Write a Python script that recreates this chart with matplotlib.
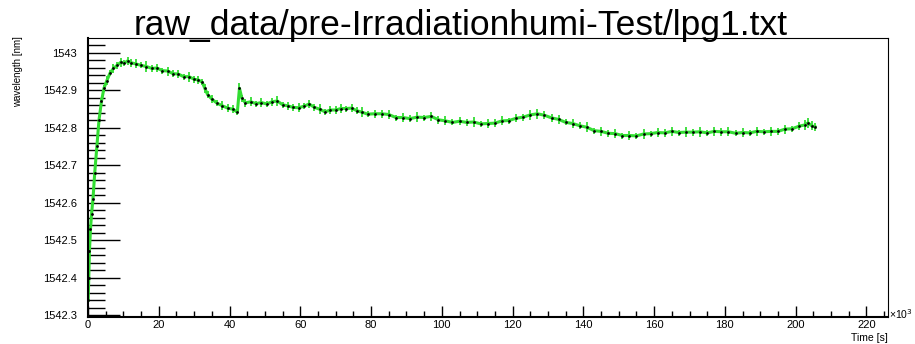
import matplotlib
matplotlib.use("Agg")
import matplotlib.pyplot as plt
from matplotlib.ticker import MultipleLocator

# time in units of 10^3 s, wavelength in nm
time_ks = [0.05, 0.2, 0.4, 0.7, 1.0, 1.4, 1.9, 2.5, 3.1, 3.8, 4.5, 5.3, 6.2, 7.2, 8.2, 9.2,
           10.2, 11.2, 12.2, 13.5, 15, 16.5, 18, 19.5, 21, 22.5, 24, 25.5, 27, 28.5, 30,
           31.2, 32.3, 33.0, 33.8, 35, 36.5, 38, 39.5, 41, 42.2, 42.8, 43.5, 44.5, 46,
           47.5, 49, 50.5, 52, 53.5, 55, 56.5, 58, 59.5, 61, 62.5, 64, 65.5, 67, 68.5,
           70, 71.5, 73, 74.5, 76, 77.5, 79, 81, 83, 85, 87, 89, 91, 93, 95, 97, 99,
           101, 103, 105, 107, 109, 111, 113, 115, 117, 119, 121, 123, 125, 127, 129,
           131, 133, 135, 137, 139, 141, 143, 145, 147, 149, 151, 153, 155, 157, 159,
           161, 163, 165, 167, 169, 171, 173, 175, 177, 179, 181, 183, 185, 187, 189,
           191, 193, 195, 197, 199, 201, 202.5, 203.5, 204.5, 205.5]

wavelength = [1542.340, 1542.40, 1542.47, 1542.53, 1542.57, 1542.61, 1542.68, 1542.75,
              1542.82, 1542.87, 1542.905, 1542.925, 1542.945, 1542.958, 1542.966, 1542.974,
              1542.972, 1542.978, 1542.973, 1542.970, 1542.966, 1542.963, 1542.958,
              1542.959, 1542.952, 1542.951, 1542.944, 1542.943, 1542.936, 1542.936,
              1542.929, 1542.927, 1542.921, 1542.905, 1542.888, 1542.876, 1542.865,
              1542.858, 1542.852, 1542.849, 1542.841, 1542.905, 1542.878, 1542.866,
              1542.869, 1542.864, 1542.867, 1542.863, 1542.869, 1542.871, 1542.861,
              1542.858, 1542.854, 1542.853, 1542.857, 1542.863, 1542.854, 1542.849,
              1542.842, 1542.847, 1542.847, 1542.851, 1542.851, 1542.852, 1542.845,
              1542.841, 1542.836, 1542.837, 1542.837, 1542.835, 1542.827, 1542.827,
              1542.824, 1542.828, 1542.827, 1542.830, 1542.821, 1542.818, 1542.814,
              1542.817, 1542.814, 1542.815, 1542.810, 1542.811, 1542.812, 1542.818,
              1542.819, 1542.825, 1542.828, 1542.834, 1542.837, 1542.833, 1542.826,
              1542.822, 1542.814, 1542.811, 1542.805, 1542.801, 1542.792, 1542.790,
              1542.785, 1542.784, 1542.779, 1542.779, 1542.778, 1542.783, 1542.784,
              1542.787, 1542.786, 1542.790, 1542.787, 1542.788, 1542.788, 1542.789,
              1542.786, 1542.790, 1542.789, 1542.789, 1542.785, 1542.787, 1542.786,
              1542.790, 1542.789, 1542.790, 1542.790, 1542.796, 1542.797, 1542.804,
              1542.807, 1542.813, 1542.805, 1542.802]

wl_err = [0.004, 0.005, 0.004, 0.006, 0.005, 0.004, 0.006, 0.005, 0.006, 0.008, 0.009,
          0.012, 0.008, 0.011, 0.009, 0.013, 0.008, 0.011, 0.010, 0.012, 0.008, 0.014,
          0.009, 0.011, 0.008, 0.012, 0.010, 0.011, 0.008, 0.013, 0.009, 0.011, 0.008,
          0.012, 0.009, 0.011, 0.008, 0.012, 0.010, 0.011, 0.008, 0.013, 0.009, 0.011,
          0.012, 0.008, 0.013, 0.009, 0.011, 0.014, 0.008, 0.011, 0.010, 0.012, 0.008,
          0.011, 0.009, 0.013, 0.008, 0.011, 0.010, 0.012, 0.008, 0.011, 0.009, 0.013,
          0.008, 0.011, 0.010, 0.012, 0.008, 0.011, 0.009, 0.013, 0.008, 0.011, 0.010,
          0.012, 0.008, 0.011, 0.009, 0.013, 0.008, 0.011, 0.010, 0.012, 0.008, 0.011,
          0.009, 0.013, 0.014, 0.011, 0.010, 0.012, 0.008, 0.011, 0.009, 0.013, 0.008,
          0.011, 0.010, 0.012, 0.008, 0.011, 0.009, 0.013, 0.008, 0.011, 0.010, 0.012,
          0.008, 0.014, 0.009, 0.013, 0.008, 0.011, 0.010, 0.012, 0.008, 0.011, 0.009,
          0.013, 0.008, 0.011, 0.010, 0.012, 0.008, 0.011, 0.013, 0.014, 0.012, 0.011]

title = "raw_data/pre-Irradiationhumi-Test/lpg1.txt"

plt.rcParams["font.family"] = ["Liberation Sans", "DejaVu Sans"]

fig = plt.figure(figsize=(9.15, 3.44), dpi=100)
ax = fig.add_axes([0.0962, 0.0785, 0.8743, 0.811])

green = "#33dd33"
ax.errorbar(time_ks, wavelength, yerr=wl_err, fmt="none", ecolor=green, elinewidth=1.3)
ax.plot(time_ks, wavelength, color=green, lw=2.2)
ax.plot(time_ks, wavelength, "o", color="black", ms=2.0, mew=0)

ax.set_xlim(0, 226.1)
ax.set_ylim(1542.295, 1543.039)

ax.xaxis.set_major_locator(MultipleLocator(20))
ax.xaxis.set_minor_locator(MultipleLocator(5))
ax.yaxis.set_major_locator(MultipleLocator(0.1))
ax.yaxis.set_minor_locator(MultipleLocator(0.02))
ax.yaxis.set_major_formatter(lambda v, p: f"{v:.1f}".rstrip("0").rstrip("."))

ax.tick_params(axis="x", which="major", direction="in", length=8, width=1, labelsize=8, pad=2)
ax.tick_params(axis="x", which="minor", direction="in", length=4, width=1)
ax.tick_params(axis="y", which="major", direction="in", length=23, width=1, labelsize=8, pad=8)
ax.tick_params(axis="y", which="minor", direction="in", length=12, width=1)

for side in ["left", "bottom"]:
    ax.spines[side].set_linewidth(1.5)
for side in ["right", "top"]:
    ax.spines[side].set_linewidth(0.8)

fig.text(0.504, 0.975, title, ha="center", va="top", fontsize=25.5)
fig.text(0.02, 0.895, "wavelength [nm]", rotation=90, ha="center", va="top", fontsize=7)
fig.text(0.9705, 0.003, "Time [s]", ha="right", va="bottom", fontsize=7.5)
fig.text(0.972, 0.088, r"×10$^{3}$", ha="left", va="center", fontsize=7.5)

fig.savefig("out.png", dpi=100)
